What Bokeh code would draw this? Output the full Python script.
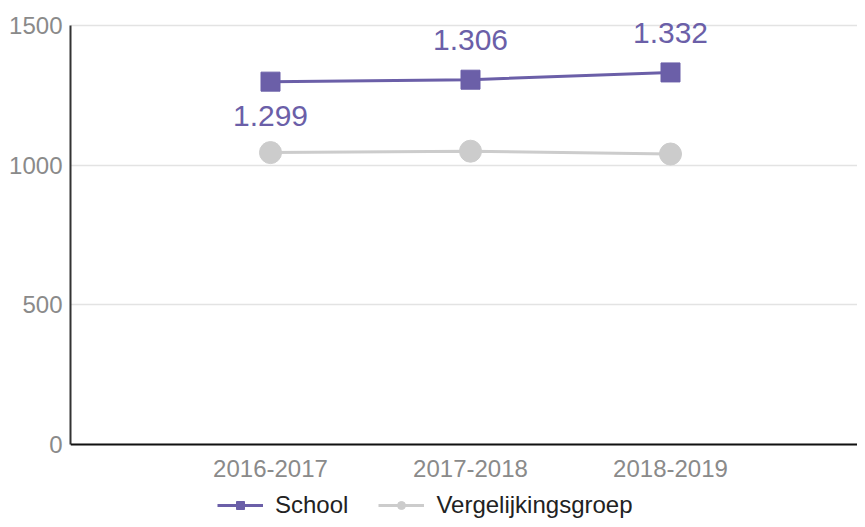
from bokeh.plotting import figure
from bokeh.models import Range1d, FixedTicker, Legend, LegendItem, ColumnDataSource, Span
from bokeh.embed import file_html
from bokeh.resources import INLINE
from bokeh.core.properties import value

# ---- data ----
categories = ["2016-2017", "2017-2018", "2018-2019"]
school = [1299, 1306, 1332]
vergelijkingsgroep = [1045, 1050, 1040]
school_labels = ["1.299", "1.306", "1.332"]
label_offsets = [34, -40, -39]  # below, above, above
y_ticks = [0, 500, 1000, 1500]

PURPLE = "#6b5fa8"
GRAY = "#cccccc"
FONT = "Liberation Sans"

x = list(range(len(categories)))

p = figure(width=857, height=519, output_backend="svg", toolbar_location=None,
           x_axis_location=None,
           x_range=Range1d(-1, 2.935), y_range=Range1d(-268.5, 1553.7),
           min_border_left=70, min_border_right=0, min_border_top=10, min_border_bottom=0)
p.outline_line_color = None
p.background_fill_color = "white"
p.border_fill_color = "white"

# grid
p.xgrid.visible = False
p.ygrid.grid_line_color = "#e3e3e3"
p.ygrid.grid_line_width = 1.5
p.ygrid.ticker = FixedTicker(ticks=y_ticks)

# y axis
p.yaxis.ticker = FixedTicker(ticks=y_ticks)
p.yaxis.bounds = (0, 1500)
p.yaxis.axis_line_color = "#333333"
p.yaxis.axis_line_width = 2
p.yaxis.major_tick_out = 0
p.yaxis.major_tick_in = 0
p.yaxis.minor_tick_out = 0
p.yaxis.minor_tick_in = 0
p.yaxis.major_label_standoff = 8
p.yaxis.major_label_text_font = FONT
p.yaxis.major_label_text_font_size = "24px"
p.yaxis.major_label_text_color = "#8a8a8a"

# x axis line at 0 and category labels
p.add_layout(Span(location=0, dimension="width", line_color="#111111", line_width=2))
cat_src = ColumnDataSource(dict(x=x, y=[0] * len(x), t=categories))
p.text(x="x", y="y", text="t", y_offset=16, source=cat_src,
       text_align="center", text_baseline="top",
       text_font=value(FONT), text_font_size="24px", text_color="#8a8a8a")

# series
vg_line = p.line(x, vergelijkingsgroep, line_color=GRAY, line_width=3)
vg_pts = p.scatter(x, vergelijkingsgroep, marker="circle", size=22,
                   fill_color=GRAY, line_color=GRAY)
sc_line = p.line(x, school, line_color=PURPLE, line_width=3)
sc_pts = p.scatter(x, school, marker="square", size=19,
                   fill_color=PURPLE, line_color=PURPLE)

# data labels
src = ColumnDataSource(dict(x=x, y=school, t=school_labels, off=label_offsets))
p.text(x="x", y="y", text="t", y_offset="off", source=src,
       text_align="center", text_baseline="middle",
       text_font=value(FONT), text_font_size="30px", text_color=PURPLE)

# legend
legend = Legend(items=[
    LegendItem(label="School", renderers=[sc_line, sc_pts]),
    LegendItem(label="Vergelijkingsgroep", renderers=[vg_line, vg_pts]),
], orientation="horizontal", location=(147, 0))
legend.glyph_width = 46
legend.glyph_height = 20
legend.label_standoff = 12
legend.spacing = 30
legend.padding = 0
legend.margin = 0
legend.border_line_color = None
legend.background_fill_alpha = 0
legend.label_text_font = FONT
legend.label_text_font_size = "24px"
legend.label_text_color = "#222222"
p.add_layout(legend, "center")

open("out.html", "w").write(file_html(p, INLINE))
